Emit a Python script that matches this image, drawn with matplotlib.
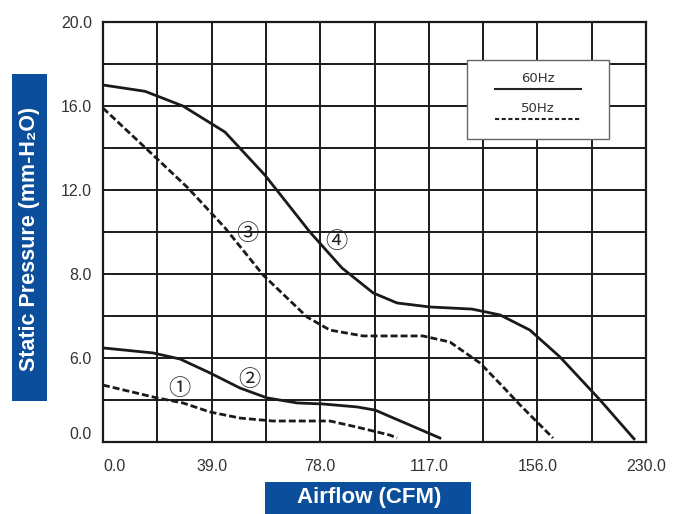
import matplotlib.pyplot as plt
from matplotlib.patches import Rectangle
from matplotlib.lines import Line2D

# curve data (airflow CFM, static pressure mm-H2O)
c1_x = [0.0, 19.4, 28.7, 38.4, 49.2, 61.0, 81.5, 91.2, 103.0, 105.6]
c1_y = [2.71, 2.10, 1.86, 1.43, 1.14, 1.00, 1.00, 0.71, 0.33, 0.19]

c2_x = [0.0, 18.0, 27.7, 38.4, 49.2, 58.9, 69.7, 79.0, 91.2, 97.7, 121.0]
c2_y = [4.48, 4.24, 3.95, 3.29, 2.57, 2.10, 1.86, 1.81, 1.67, 1.52, 0.19]

c3_x = [0.0, 16.9, 30.5, 43.8, 57.5, 73.3, 81.5, 93.4, 114.9, 124.6, 135.4, 143.7, 149.8, 161.6]
c3_y = [15.9, 13.8, 12.1, 10.2, 7.95, 5.95, 5.33, 5.05, 5.05, 4.76, 3.76, 2.62, 1.76, 0.19]

c4_x = [0.0, 15.1, 28.7, 43.8, 58.2, 74.3, 85.8, 97.0, 105.6, 117.4, 132.5, 142.6,
        153.3, 164.1, 178.5, 190.7]
c4_y = [17.0, 16.7, 16.0, 14.76, 12.7, 10.0, 8.29, 7.1, 6.62, 6.43, 6.33, 6.05,
        5.33, 4.05, 2.0, 0.15]

x_ticks = [0, 39, 78, 117, 156, 195]
x_labels = ["0.0", "39.0", "78.0", "117.0", "156.0", "230.0"]
y_ticks = [0, 4, 8, 12, 16, 20]
y_labels = ["0.0", "6.0", "8.0", "12.0", "16.0", "20.0"]

curve_tags = ["\u2460", "\u2461", "\u2462", "\u2463"]
tag_x = [27.3, 52.4, 51.7, 83.7]
tag_y = [2.57, 3.0, 9.95, 9.57]

W, H = 686, 514
fig = plt.figure(figsize=(W / 100, H / 100), dpi=100)
ax = fig.add_axes([103 / W, 1 - 442 / H, 543 / W, 420 / H])

dash = (0, (2.5, 1.1))
lw = 2.0
ax.plot(c1_x, c1_y, color='#1a1a1a', lw=lw, linestyle=dash)
ax.plot(c2_x, c2_y, color='#1a1a1a', lw=lw)
ax.plot(c3_x, c3_y, color='#1a1a1a', lw=lw, linestyle=dash)
ax.plot(c4_x, c4_y, color='#1a1a1a', lw=lw)

for t, x, y in zip(curve_tags, tag_x, tag_y):
    ax.text(x, y, t, fontsize=16, ha='center', va='center', color='#222222',
            family=['Noto Sans CJK JP', 'DejaVu Sans'])

ax.set_xlim(0, 195)
ax.set_ylim(0, 20)
ax.set_xticks([i * 19.5 for i in range(11)], minor=True)
ax.set_yticks(range(0, 21, 2), minor=True)
ax.set_xticks(x_ticks)
ax.set_xticklabels(x_labels)
ax.set_yticks(y_ticks)
ax.set_yticklabels(y_labels)
ax.grid(True, which='both', color='#1a1a1a', lw=1.4)
ax.set_axisbelow(True)
for s in ax.spines.values():
    s.set_linewidth(1.6)
    s.set_color('#1a1a1a')
ax.tick_params(which='both', length=0)
ax.tick_params(axis='x', pad=12)
ax.tick_params(axis='y', pad=8)
for lab in ax.get_xticklabels() + ax.get_yticklabels():
    lab.set_fontfamily('Liberation Sans')
    lab.set_fontsize(11.5)
    lab.set_color('#333333')
ax.get_xticklabels()[0].set_ha('left')
ax.get_yticklabels()[0].set_va('bottom')

# legend box drawn by hand (label sits above the line sample)
ax.add_patch(Rectangle((0.670, 0.721), 0.262, 0.189, transform=ax.transAxes,
                       facecolor='white', edgecolor='#666666', lw=1.0, zorder=5))
ax.add_line(Line2D([0.722, 0.880], [0.840, 0.840], transform=ax.transAxes,
                   color='#222222', lw=1.5, zorder=6))
ax.add_line(Line2D([0.722, 0.880], [0.769, 0.769], transform=ax.transAxes,
                   color='#222222', lw=1.5, linestyle=(0, (2.0, 1.2)), zorder=6))
ax.text(0.801, 0.866, "60Hz", transform=ax.transAxes, ha='center', va='center',
        fontsize=9.5, color='#333333', zorder=7)
ax.text(0.801, 0.793, "50Hz", transform=ax.transAxes, ha='center', va='center',
        fontsize=9.5, color='#333333', zorder=7)

# blue axis-title boxes
blue = '#0b4e9b'
fig.patches.append(Rectangle((12 / W, 1 - 401 / H), 35 / W, 327 / H,
                             transform=fig.transFigure, facecolor=blue,
                             edgecolor='none'))
fig.text(30 / W, 1 - 239 / H, "Static Pressure (mm-H\u2082O)", rotation=90,
         ha='center', va='center', color='white', fontsize=15.5, fontweight='bold',
         family=['Liberation Sans', 'DejaVu Sans'])
fig.patches.append(Rectangle((265 / W, 0), 206 / W, 32 / H,
                             transform=fig.transFigure, facecolor=blue,
                             edgecolor='none'))
fig.text(369 / W, 1 - 498 / H, "Airflow (CFM)", ha='center', va='center',
         color='white', fontsize=16, fontweight='bold',
         family=['Liberation Sans', 'DejaVu Sans'])

fig.savefig('out.png', dpi=100)
